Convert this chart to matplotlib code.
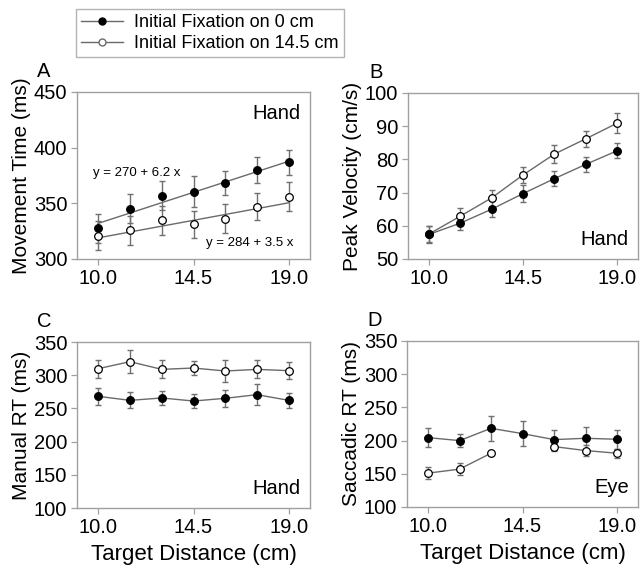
import numpy as np
import matplotlib
matplotlib.use("Agg")
import matplotlib.pyplot as plt
from matplotlib.lines import Line2D

plt.rcParams['font.family'] = ['Liberation Sans', 'DejaVu Sans']

# target distances (cm)
distance = [10.0, 11.5, 13.0, 14.5, 16.0, 17.5, 19.0]
xticks = [10.0, 14.5, 19.0]
series_labels = ["Initial Fixation on 0 cm", "Initial Fixation on 14.5 cm"]

# A: movement time (ms)
mt_fix0 = [327.6, 345.0, 356.7, 360.6, 368.4, 380.0, 386.7]
mt_fix0_err = [13, 13, 13, 14, 11, 12, 11]
mt_fix145 = [320.7, 326.0, 335.0, 331.0, 336.0, 347.0, 356.0]
mt_fix145_err = [13, 13, 13, 12, 13, 12, 13]
# regression lines shown in panel A: intercept, slope
fit_fix0 = [270, 6.2]
fit_fix145 = [284, 3.5]

# B: peak velocity (cm/s)
pv_fix0 = [57.4, 60.8, 65.0, 69.7, 74.2, 78.5, 82.6]
pv_fix0_err = [2.5, 2.2, 2.5, 2.5, 2.2, 2.2, 2.3]
pv_fix145 = [57.5, 62.9, 68.4, 75.3, 81.6, 86.2, 90.9]
pv_fix145_err = [2.5, 2.6, 2.4, 2.5, 2.6, 2.5, 3.0]

# C: manual RT (ms)
mrt_fix0 = [268.2, 262.1, 265.7, 261.1, 265.2, 270.7, 262.1]
mrt_fix0_err = [12.5, 12, 10.5, 10.6, 13, 15.5, 11]
mrt_fix145 = [309.8, 320.4, 308.8, 310.8, 306.3, 308.8, 306.8]
mrt_fix145_err = [13.6, 17, 13.6, 11, 16.6, 13.6, 12.6]

# D: saccadic RT (ms), no open point at 14.5
srt_fix0 = [204.5, 200.0, 218.5, 210.5, 201.5, 203.5, 202.0]
srt_fix0_err = [14.5, 9.5, 18.5, 18.5, 15, 16.5, 14.5]
srt_fix145 = [151.0, 157.0, 181.0, np.nan, 191.0, 185.0, 181.0]
srt_fix145_err = [8.5, 9, 2, np.nan, 7, 8, 7]

W, H = 640, 565
fig = plt.figure(figsize=(W / 100, H / 100), dpi=100)

def box(l, t, r, b):
    return [l / W, 1 - b / H, (r - l) / W, (b - t) / H]

axA = fig.add_axes(box(77, 92, 310, 259))
axB = fig.add_axes(box(408, 93, 638, 259))
axC = fig.add_axes(box(77, 342, 310, 508))
axD = fig.add_axes(box(407, 341, 638, 507))

line_col = '#6a6a6a'
err_col = '#707070'
spine_col = '#a0a0a0'


def draw_series(ax, y, err, filled, connect=True):
    face = 'black' if filled else 'white'
    ax.errorbar(distance, y, yerr=err, fmt='none', ecolor=err_col,
                elinewidth=1.0, capsize=2.5, capthick=1.0, zorder=2)
    if connect:
        ax.plot(distance, y, color=line_col, lw=1.0, zorder=3)
    ax.plot(distance, y, ls='none', marker='o', ms=5.5, mfc=face,
            mec='black', mew=0.9, zorder=4)


def style(ax, ylim, yticks, ylabel, letter, xlabel=None):
    ax.set_xlim(9.0, 20.0)
    ax.set_ylim(*ylim)
    ax.set_xticks(xticks)
    ax.set_xticklabels([f"{v:.1f}" for v in xticks])
    ax.set_yticks(yticks)
    for s in ax.spines.values():
        s.set_color(spine_col)
        s.set_linewidth(1.0)
    ax.tick_params(direction='out', length=4, width=0.9, color=spine_col,
                   labelsize=14.5, pad=3)
    ax.set_ylabel(ylabel, fontsize=15, labelpad=2)
    if xlabel:
        ax.set_xlabel(xlabel, fontsize=16, labelpad=5)
    ax.text(-0.17, 1.065, letter, transform=ax.transAxes, fontsize=14.5,
            ha='left', va='bottom')


# A
draw_series(axA, mt_fix0, mt_fix0_err, True, connect=False)
draw_series(axA, mt_fix145, mt_fix145_err, False, connect=False)
xs = np.array([distance[0], distance[-1]])
axA.plot(xs, fit_fix0[0] + fit_fix0[1] * xs, color=line_col, lw=1.0, zorder=3)
axA.plot(xs, fit_fix145[0] + fit_fix145[1] * xs, color=line_col, lw=1.0, zorder=3)
axA.text(9.75, 377, f"y = {fit_fix0[0]} + {fit_fix0[1]} x", fontsize=9.5, va='center')
axA.text(19.2, 314, f"y = {fit_fix145[0]} + {fit_fix145[1]} x", fontsize=9.5,
         va='center', ha='right')
axA.text(0.96, 0.93, "Hand", transform=axA.transAxes, fontsize=14.5, ha='right', va='top')
style(axA, (300, 450), [300, 350, 400, 450], "Movement Time (ms)", "A")

# B
draw_series(axB, pv_fix145, pv_fix145_err, False)
draw_series(axB, pv_fix0, pv_fix0_err, True)
axB.text(0.96, 0.06, "Hand", transform=axB.transAxes, fontsize=14.5, ha='right', va='bottom')
style(axB, (50, 100), [50, 60, 70, 80, 90, 100], "Peak Velocity (cm/s)", "B")

# C
draw_series(axC, mrt_fix0, mrt_fix0_err, True)
draw_series(axC, mrt_fix145, mrt_fix145_err, False)
axC.text(0.96, 0.06, "Hand", transform=axC.transAxes, fontsize=14.5, ha='right', va='bottom')
style(axC, (100, 350), [100, 150, 200, 250, 300, 350], "Manual RT (ms)", "C",
      "Target Distance (cm)")

# D
draw_series(axD, srt_fix0, srt_fix0_err, True)
draw_series(axD, srt_fix145, srt_fix145_err, False)
axD.text(0.96, 0.06, "Eye", transform=axD.transAxes, fontsize=14.5, ha='right', va='bottom')
style(axD, (100, 350), [100, 150, 200, 250, 300, 350], "Saccadic RT (ms)", "D",
      "Target Distance (cm)")

handles = [
    Line2D([], [], color=line_col, lw=1.0, marker='o', ms=5, mfc='black', mec='black'),
    Line2D([], [], color=line_col, lw=1.0, marker='o', ms=5, mfc='white', mec=line_col),
]
leg = fig.legend(handles, series_labels, loc='upper left',
                 bbox_to_anchor=(76 / W, 1 - 9 / H), fontsize=13,
                 frameon=True, fancybox=False, handlelength=2.3,
                 borderpad=0.3, labelspacing=0.2, handletextpad=0.6,
                 borderaxespad=0)
leg.get_frame().set_edgecolor(spine_col)
leg.get_frame().set_linewidth(1.0)

fig.savefig("out.png", dpi=100)
